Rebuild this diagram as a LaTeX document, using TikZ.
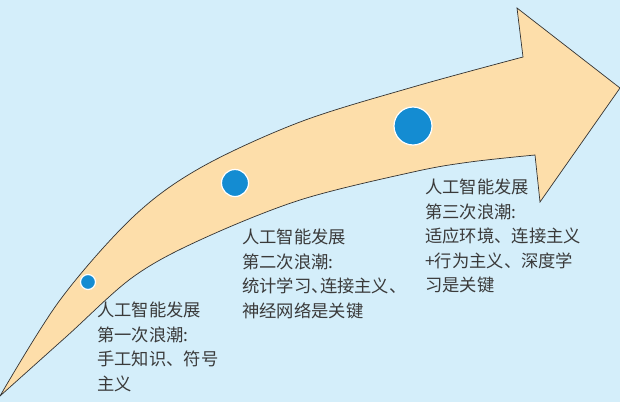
\documentclass[tikz,border=0pt]{standalone}
\usepackage{fontspec}
\newfontfamily\cjk{Noto Sans CJK SC}
\newfontfamily\cjkh{Noto Sans CJK SC}[RawFeature=+halt]
\definecolor{bgblue}{HTML}{D4EEFA}
\definecolor{arrowfill}{HTML}{FDDEAA}
\definecolor{edgegray}{HTML}{333333}
\definecolor{dotblue}{HTML}{148CD2}
\definecolor{txtgray}{HTML}{3A3A3A}
\tikzset{
  dot/.style={circle, fill=dotblue, draw=white, line width=1.2pt, inner sep=0pt},
  wave/.style={anchor=north west, inner sep=0pt, align=left, text=txtgray,
    font=\cjk\fontsize{17.3}{24.5}\selectfont}
}
\begin{document}
\begin{tikzpicture}[x=1pt,y=-1pt]
\useasboundingbox (0,0) rectangle (620,402);
\fill[bgblue] (0,0) rectangle (620,402);
\filldraw[fill=arrowfill, draw=edgegray, line width=0.7pt, line join=miter]
  plot[smooth, tension=0.55] coordinates {(0,396) (60,300) (133,217) (200,168) (300,122) (413,87) (523,57)}
  -- (517,8) -- (620,88) -- (540,202) -- (535,155)
  -- plot[smooth, tension=0.55] coordinates {(535,155) (470,162) (413,172) (300,200) (200,240) (133,277) (67,336) (0,396)}
  -- cycle;
\node[dot, minimum size=15pt] (c1) at (88,282) {};
\node[dot, minimum size=27pt] (c2) at (235,183) {};
\node[dot, minimum size=38pt] (c3) at (413,126) {};
\node[wave] (t1) at (97,302) {人工智能发展\\第一次浪潮:\\手工知识、符号\\主义};
\node[wave] (t2) at (242,229) {人工智能发展\\第二次浪潮:\\{\cjkh 统计学习、连接主义、}\\神经网络是关键};
\node[wave] (t3) at (425,179) {人工智能发展\\第三次浪潮:\\适应环境、连接主义\\+行为主义、深度学\\习是关键};
\end{tikzpicture}
\end{document}
